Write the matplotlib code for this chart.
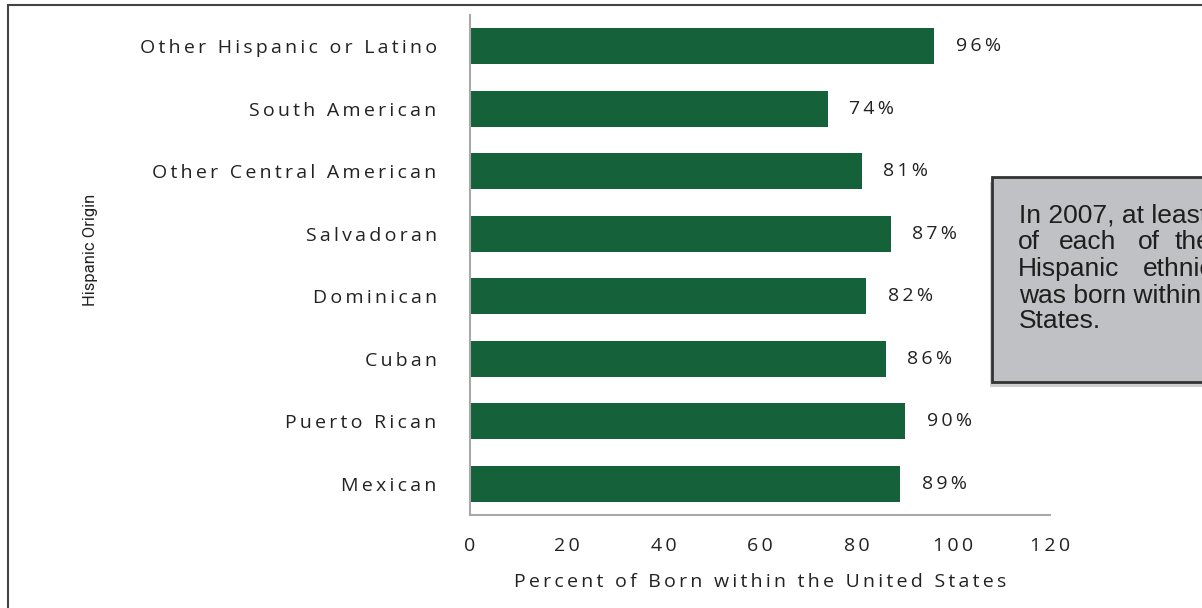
import matplotlib.pyplot as plt
from matplotlib.patches import Rectangle

# Data (top to bottom as shown)
origins = ['Other Hispanic or Latino', 'South American', 'Other Central American',
           'Salvadoran', 'Dominican', 'Cuban', 'Puerto Rican', 'Mexican']
percent = [96, 74, 81, 87, 82, 86, 90, 89]
x_ticks = [0, 20, 40, 60, 80, 100, 120]

green = '#14613a'
label_font = ['Open Sans', 'DejaVu Sans']
TS = '\u2009'  # thin space used as letter tracking


def track(s):
    return TS.join(s)


fig = plt.figure(figsize=(12.02, 6.08), dpi=100)
ax = fig.add_axes([470 / 1202, 1 - 515 / 608, 580 / 1202, 500 / 608])

pos = list(range(len(origins)))[::-1]
ax.barh(pos, percent, height=0.58, color=green)
for p, v in zip(pos, percent):
    ax.text(v + 4.5, p, track(f'{v}%'), va='center', ha='left', fontsize=14,
            family=label_font, color='#222222')

ax.set_xlim(0, 120)
ax.set_ylim(-0.5, 7.5)
ax.set_yticks(pos)
ax.set_yticklabels([track(o) for o in origins], fontsize=14, family=label_font,
                   color='#222222')
ax.set_xticks(x_ticks)
ax.set_xticklabels([track(str(t)) for t in x_ticks], fontsize=14,
                   family=label_font, color='#222222')
ax.tick_params(axis='y', length=0, pad=24)
ax.tick_params(axis='x', length=0, pad=16)
for s in ['top', 'right']:
    ax.spines[s].set_visible(False)
for s in ['left', 'bottom']:
    ax.spines[s].set_color('#a8a8a8')
    ax.spines[s].set_linewidth(1.5)

ax.set_xlabel(track('Percent of Born within the United States'), fontsize=14,
              family=label_font, color='#222222', labelpad=13)

fig.text(90 / 1202, 1 - 250 / 608, 'Hispanic Origin', rotation=90,
         ha='center', va='center', fontsize=12,
         family=['Roboto', 'DejaVu Sans'], color='#222222')

# outer frame
fig.add_artist(Rectangle((8 / 1202, -0.1), 1.2, 1 - 5 / 608 + 0.1,
                         transform=fig.transFigure, fill=False,
                         edgecolor='#444444', linewidth=1.5))

# call-out box with shadow
bx, by, bw, bh = 992 / 1202, 1 - 382 / 608, 0.3, 205 / 608
fig.add_artist(Rectangle((bx - 2 / 1202, by - 5 / 608), bw, bh,
                         transform=fig.transFigure, facecolor='#a0a0a0',
                         edgecolor='none', alpha=0.5))
fig.add_artist(Rectangle((bx, by), bw, bh, transform=fig.transFigure,
                         facecolor='#c0c1c4', edgecolor='#333333', linewidth=2))

box_lines = [
    [(1019, 'In 2007, at least 74%')],
    [(1018, 'of'), (1059, 'each'), (1138, 'of'), (1175, 'the')],
    [(1018, 'Hispanic'), (1143, 'ethnic')],
    [(1019, 'was born within the')],
    [(1019, 'States.')],
]
baselines = [223, 249, 276, 303, 328]
for line, yb in zip(box_lines, baselines):
    for x, word in line:
        fig.text(x / 1202, 1 - yb / 608, word, ha='left', va='baseline',
                 fontsize=19, family='Liberation Sans', color='#1e1e1e')

fig.savefig('out.png', dpi=100)
